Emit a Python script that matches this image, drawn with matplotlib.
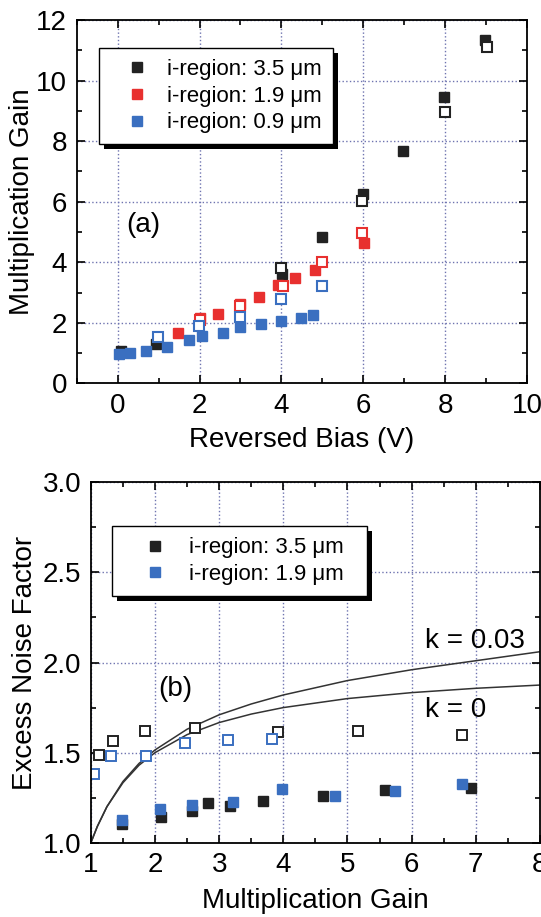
import matplotlib
matplotlib.use('Agg')
import matplotlib.pyplot as plt
from matplotlib.patches import Rectangle
from matplotlib.ticker import MultipleLocator

plt.rcParams['font.family'] = ['Liberation Sans', 'DejaVu Sans']
plt.rcParams['font.size'] = 20

# ---- panel (a): gain vs reverse bias ----
# i-region 3.5 um
a35_fill_x = [0.08, 0.94, 4.02, 5.0, 6.0, 6.98, 7.98, 8.98]
a35_fill_y = [1.08, 1.29, 3.61, 4.82, 6.26, 7.69, 9.47, 11.34]
a35_open_x = [3.98, 5.98, 8.0, 9.03]
a35_open_y = [3.80, 6.01, 8.96, 11.12]
# i-region 1.9 um
a19_fill_x = [1.47, 2.0, 2.46, 2.98, 3.44, 3.92, 4.34, 4.83, 6.02]
a19_fill_y = [1.67, 2.15, 2.29, 2.62, 2.86, 3.24, 3.49, 3.74, 4.63]
a19_open_x = [2.0, 3.0, 4.05, 5.0, 5.98]
a19_open_y = [2.10, 2.55, 3.22, 4.02, 4.96]
# i-region 0.9 um
a09_fill_x = [0.02, 0.3, 0.68, 1.2, 1.74, 2.07, 2.57, 3.0, 3.49, 3.98, 4.47, 4.78]
a09_fill_y = [0.96, 0.99, 1.07, 1.19, 1.43, 1.57, 1.65, 1.87, 1.96, 2.07, 2.15, 2.25]
a09_open_x = [0.98, 1.98, 3.0, 3.98, 5.0]
a09_open_y = [1.54, 1.89, 2.20, 2.78, 3.22]

# ---- panel (b): excess noise factor vs gain ----
b35_fill_x = [1.49, 2.09, 2.58, 2.82, 3.17, 3.69, 4.62, 5.58, 6.92]
b35_fill_y = [1.105, 1.142, 1.175, 1.221, 1.203, 1.23, 1.258, 1.295, 1.304]
b35_open_x = [1.13, 1.34, 1.85, 2.62, 3.91, 5.17, 6.79]
b35_open_y = [1.485, 1.566, 1.621, 1.634, 1.614, 1.621, 1.599]
b19_fill_x = [1.49, 2.07, 2.57, 3.22, 3.98, 4.81, 5.74, 6.79]
b19_fill_y = [1.124, 1.188, 1.212, 1.225, 1.299, 1.262, 1.289, 1.326]
b19_open_x = [1.05, 1.32, 1.86, 2.46, 3.13, 3.83]
b19_open_y = [1.38, 1.48, 1.48, 1.553, 1.571, 1.575]

# model curves, values
curve_m = [1.0, 1.1, 1.25, 1.5, 1.75, 2.0, 2.5, 3.0, 3.5, 4.0, 5.0, 6.0, 7.0, 8.0]
curve_k003 = [1.0, 1.09, 1.20, 1.34, 1.44, 1.515, 1.63, 1.71, 1.77, 1.82, 1.90, 1.96, 2.01, 2.06]
curve_k0 = [1.0, 1.09, 1.20, 1.333, 1.43, 1.50, 1.60, 1.667, 1.714, 1.75, 1.80, 1.833, 1.857, 1.875]

black = '#222222'
red = '#e8302f'
blue = '#3a6fc0'
ms = 7.5

fig = plt.figure(figsize=(5.41, 9.17), dpi=100)
ax1 = fig.add_axes([0.142, 0.582, 0.832, 0.396])
ax2 = fig.add_axes([0.168, 0.081, 0.830, 0.393])

def style(ax):
    ax.tick_params(which='both', direction='in', top=True, right=True, width=1.2)
    ax.tick_params(which='major', length=6, pad=7)
    ax.tick_params(which='minor', length=3.5)
    ax.grid(True, which='major', linestyle=':', color='#6f74b0', linewidth=1.0)
    ax.set_axisbelow(True)
    for s in ax.spines.values():
        s.set_linewidth(1.3)

legend_kw = dict(loc='upper left', fontsize=16, frameon=True, fancybox=False,
                 edgecolor='black', framealpha=1, borderaxespad=0,
                 borderpad=0.5, labelspacing=0.25)

# panel (a)
ax1.plot(a35_fill_x, a35_fill_y, 's', color=black, ms=ms, label='i-region: 3.5 μm')
ax1.plot(a19_fill_x, a19_fill_y, 's', color=red, ms=ms, label='i-region: 1.9 μm')
ax1.plot(a09_fill_x, a09_fill_y, 's', color=blue, ms=ms, label='i-region: 0.9 μm')
ax1.plot(a35_open_x, a35_open_y, 's', mfc='white', mec=black, mew=1.5, ms=ms)
ax1.plot(a19_open_x, a19_open_y, 's', mfc='white', mec=red, mew=1.5, ms=ms)
ax1.plot(a09_open_x, a09_open_y, 's', mfc='white', mec=blue, mew=1.5, ms=ms)
ax1.set_xlim(-1, 10)
ax1.set_ylim(0, 12)
ax1.xaxis.set_major_locator(MultipleLocator(2))
ax1.xaxis.set_minor_locator(MultipleLocator(1))
ax1.yaxis.set_major_locator(MultipleLocator(2))
ax1.yaxis.set_minor_locator(MultipleLocator(1))
style(ax1)
ax1.set_xlabel('Reversed Bias (V)', labelpad=6)
ax1.set_ylabel('Multiplication Gain', labelpad=1)
ax1.text(0.109, 0.40, '(a)', transform=ax1.transAxes, fontsize=20, va='bottom')
leg1 = ax1.legend(bbox_to_anchor=(0.049, 0.923), handlelength=2.4, handletextpad=0.17,
                  **legend_kw)
leg1.get_frame().set_linewidth(1.0)

# panel (b)
ax2.plot(curve_m, curve_k003, '-', color='#333333', lw=1.1)
ax2.plot(curve_m, curve_k0, '-', color='#333333', lw=1.1)
ax2.plot(b35_fill_x, b35_fill_y, 's', color=black, ms=ms, label='i-region: 3.5 μm  ')
ax2.plot(b19_fill_x, b19_fill_y, 's', color=blue, ms=ms, label='i-region: 1.9 μm  ')
ax2.plot(b35_open_x, b35_open_y, 's', mfc='white', mec=black, mew=1.4, ms=ms)
ax2.plot(b19_open_x, b19_open_y, 's', mfc='white', mec=blue, mew=1.4, ms=ms)
ax2.set_xlim(1, 8)
ax2.set_ylim(1.0, 3.0)
ax2.xaxis.set_major_locator(MultipleLocator(1))
ax2.xaxis.set_minor_locator(MultipleLocator(0.5))
ax2.yaxis.set_major_locator(MultipleLocator(0.5))
ax2.yaxis.set_minor_locator(MultipleLocator(0.25))
ax2.yaxis.set_major_formatter(plt.FormatStrFormatter('%.1f'))
style(ax2)
ax2.set_xlabel('Multiplication Gain', labelpad=7)
ax2.set_ylabel('Excess Noise Factor', labelpad=3)
ax2.text(0.149, 0.39, '(b)', transform=ax2.transAxes, fontsize=20, va='bottom')
ax2.text(0.744, 0.54, 'k = 0.03', transform=ax2.transAxes, fontsize=20, va='baseline')
ax2.text(0.744, 0.349, 'k = 0', transform=ax2.transAxes, fontsize=20, va='baseline')
leg2 = ax2.legend(bbox_to_anchor=(0.047, 0.878), handlelength=2.9, handletextpad=0.07,
                  **legend_kw)
leg2.get_frame().set_linewidth(1.0)

# black drop shadow behind each legend box
fig.canvas.draw()
for ax, leg in [(ax1, leg1), (ax2, leg2)]:
    bb = leg.get_frame().get_window_extent()
    shadow = Rectangle((bb.x0 + 5, bb.y0 - 5), bb.width, bb.height,
                       transform=None, facecolor='black', edgecolor='none',
                       zorder=4.9, clip_on=False)
    ax.add_artist(shadow)

fig.savefig('out.png', dpi=100)
